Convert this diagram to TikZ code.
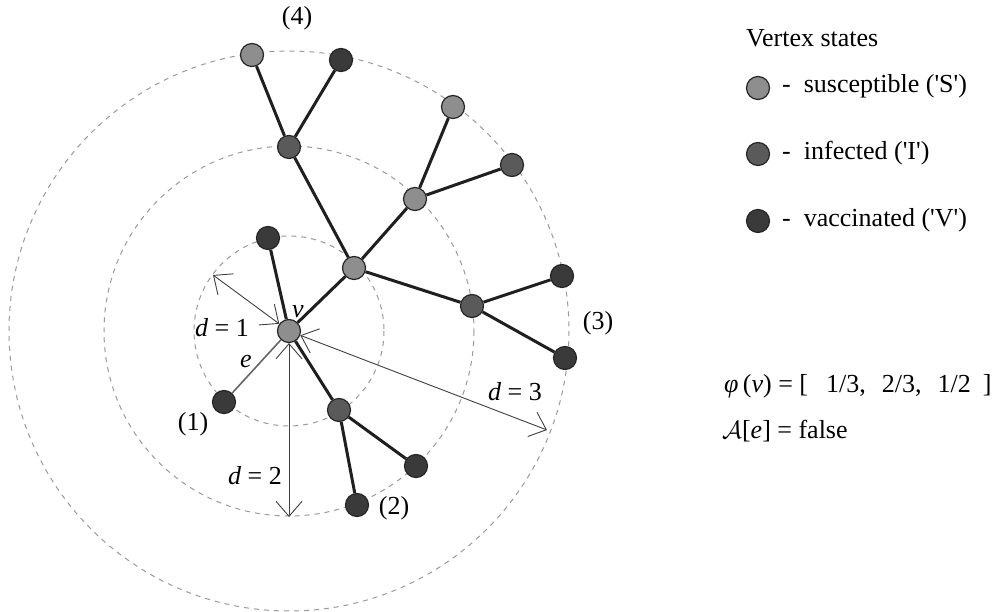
\documentclass[tikz,border=0pt]{standalone}
\usepackage{fontspec}
\setmainfont{Liberation Serif}
\usetikzlibrary{arrows.meta}
\definecolor{sus}{HTML}{8E8E8E}
\definecolor{inf}{HTML}{5A5A5A}
\definecolor{vac}{HTML}{3A3A3A}
\tikzset{
  vtx/.style={circle,draw=black!85,line width=1.2pt,minimum size=23pt,inner sep=0pt},
  vs/.style={vtx,fill=sus},
  vi/.style={vtx,fill=inf},
  vv/.style={vtx,fill=vac},
  edge/.style={line width=3pt,black!88},
  thinedge/.style={line width=1.6pt,black!60},
  ring/.style={dashed,dash pattern=on 5pt off 5pt,black!40,line width=1pt},
  dist/.style={line width=0.9pt,black!75,{Straight Barb[length=15pt,width=26pt]}-{Straight Barb[length=15pt,width=26pt]}},
  lbl/.style={font=\fontsize{26}{29}\selectfont,inner sep=0pt}
}
\begin{document}
\begin{tikzpicture}[x=1pt,y=-1pt]
\useasboundingbox (0,0) rectangle (1005,612);
% rings
\draw[ring] (289,331) circle (95);
\draw[ring] (289,331) circle (185);
\draw[ring] (289,331) circle (280);
% vertices
\node[vs] (v) at (289,331) {};
\node[vv] (a) at (268,238) {};
\node[vv] (b) at (224,402) {};
\node[vs] (h) at (354,268) {};
\node[vi] (c) at (339,410) {};
\node[vv] (c1) at (416,466) {};
\node[vv] (c2) at (357,505) {};
\node[vi] (h1) at (289,147) {};
\node[vs] (h11) at (252,55) {};
\node[vv] (h12) at (341,60) {};
\node[vs] (h2) at (415,199) {};
\node[vs] (h21) at (453,107) {};
\node[vi] (h22) at (512,165) {};
\node[vi] (h3) at (472,306) {};
\node[vv] (h31) at (562,276) {};
\node[vv] (h32) at (565,358) {};
% edges
\draw[edge] (v) -- (a);
\draw[thinedge] (v) -- (b);
\draw[edge] (v) -- (h);
\draw[edge] (v) -- (c);
\draw[edge] (c) -- (c1);
\draw[edge] (c) -- (c2);
\draw[edge] (h) -- (h1);
\draw[edge] (h1) -- (h11);
\draw[edge] (h1) -- (h12);
\draw[edge] (h) -- (h2);
\draw[edge] (h2) -- (h21);
\draw[edge] (h2) -- (h22);
\draw[edge] (h) -- (h3);
\draw[edge] (h3) -- (h31);
\draw[edge] (h3) -- (h32);
% distance arrows
\coordinate (r1) at (213,275);
\coordinate (r2) at (289,517);
\coordinate (r3) at (547,430);
\draw[dist] (v) -- (r1);
\draw[dist] (v) -- (r2);
\draw[dist] (v) -- (r3);
% labels
\node[lbl] (lv) at (298,312) {\textit{v}};
\node[lbl] (le) at (246,362) {\textit{e}};
\node[lbl] (ld1) at (222,328) {\textit{d} = 1};
\node[lbl] (ld2) at (255,476) {\textit{d} = 2};
\node[lbl] (ld3) at (515,392) {\textit{d} = 3};
\node[lbl] (l1) at (193,424) {(1)};
\node[lbl] (l2) at (394,508) {(2)};
\node[lbl] (l3) at (598,323) {(3)};
\node[lbl] (l4) at (297,18) {(4)};
% legend
\node[lbl,anchor=west] (lt) at (746,38) {Vertex states};
\node[vs] (ls) at (758,88) {};
\node[vi] (li) at (758,154) {};
\node[vv] (lvv) at (758,221) {};
\node[lbl,anchor=west] (lst) at (782,86) {-\ \ susceptible (\textquotesingle S\textquotesingle)};
\node[lbl,anchor=west] (lit) at (782,153) {-\ \ infected (\textquotesingle I\textquotesingle)};
\node[lbl,anchor=west] (lvt) at (782,220) {-\ \ vaccinated (\textquotesingle V\textquotesingle)};
% formulas
\node[lbl,anchor=west] (phi) at (724,386) {\textit{φ}\,(\textit{v}) = [\hspace{18pt}1/3,\hspace{16pt}2/3,\hspace{16pt}1/2\hspace{12pt}]};
\node[lbl,anchor=west] (aa) at (722,431) {$\mathcal{A}$[\textit{e}] = false};
\end{tikzpicture}
\end{document}
